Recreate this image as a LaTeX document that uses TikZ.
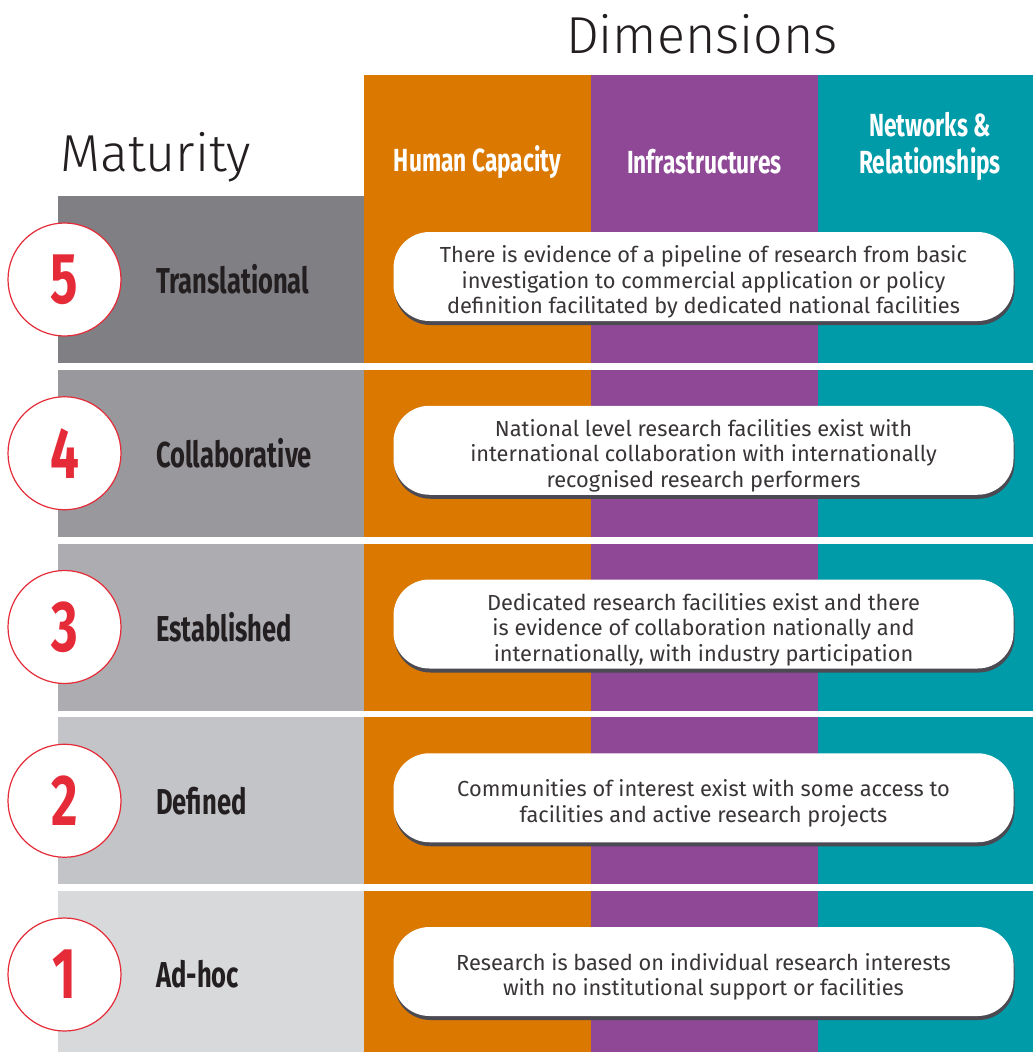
\documentclass[tikz,border=0pt]{standalone}
\usepackage{fontspec}
\setmainfont{Fira Sans}
\newfontfamily\lightfont{Fira Sans Light}
\newfontfamily\condfont[FakeStretch=0.71]{Fira Sans}
\usetikzlibrary{shadows}

\definecolor{humancap}{HTML}{DB7800}
\definecolor{infra}{HTML}{8E4896}
\definecolor{network}{HTML}{009BA8}
\definecolor{ringred}{HTML}{E52B38}
\definecolor{inkdark}{HTML}{231F20}
\definecolor{boxshadow}{HTML}{4B4A52}
\definecolor{mat5}{HTML}{807F84}
\definecolor{mat4}{HTML}{99989D}
\definecolor{mat3}{HTML}{ADADB1}
\definecolor{mat2}{HTML}{C2C4C7}
\definecolor{mat1}{HTML}{D8D9DB}

\tikzset{
	titletext/.style={font=\lightfont\fontsize{52}{60}\selectfont, text=inkdark, inner sep=0},
	colhead/.style={font=\condfont\bfseries\fontsize{32}{37}\selectfont, text=white, align=center, inner sep=0},
	levelring/.style={circle, draw=ringred, line width=1.2pt, fill=white, minimum size=113pt, inner sep=0,
		text=ringred, font=\condfont\bfseries\fontsize{72}{72}\selectfont},
	rowlabel/.style={anchor=west, inner sep=0, text=inkdark, font=\condfont\bfseries\fontsize{36}{36}\selectfont},
	descbox/.style={fill=white, rounded corners=36pt, minimum width=620pt, minimum height=89pt, inner sep=0,
		drop shadow={shadow xshift=1pt, shadow yshift=-4pt, fill=boxshadow, opacity=1}},
	desctext/.style={align=center, inner sep=0, text=inkdark!90, font=\fontsize{21.8}{25.5}\selectfont}
}

\begin{document}
\begin{tikzpicture}[x=1pt, y=-1pt]
		%%%%% START %%%%%
		\useasboundingbox (0,0) rectangle (1033,1052);
		\fill[white] (0,0) rectangle (1033,1052);
		
		\node[titletext, anchor=base] (dimtitle) at (702,53) {Dimensions};
		\node[titletext, anchor=base west] (mattitle) at (60,171) {Maturity};
		
		% dimension columns
		\fill[humancap] (364,75) rectangle (591,1052);
		\fill[infra] (591,75) rectangle (818,1052);
		\fill[network] (818,75) rectangle (1033,1052);
		
		\node[colhead] (hhuman) at (477.5,162) {Human Capacity};
		\node[colhead] (hinfra) at (704.5,162) {Infrastructures};
		\node[colhead] (hnet) at (930,146) {Networks \&\\Relationships};
		
		% maturity levels
		\foreach \n/\lbl/\shade/\desc [count=\i from 0] in {
			5/Translational/mat5/{There is evidence of a pipeline of research from basic\\investigation to commercial application or policy\\definition facilitated by dedicated national facilities},
			4/Collaborative/mat4/{National level research facilities exist with\\international collaboration with internationally\\recognised research performers},
			3/Established/mat3/{Dedicated research facilities exist and there\\is evidence of collaboration nationally and\\internationally, with industry participation},
			2/Defined/mat2/{Communities of interest exist with some access to\\facilities and active research projects},
			1/Ad-hoc/mat1/{Research is based on individual research interests\\with no institutional support or facilities}}
		{
			\pgfmathsetmacro\rtop{196+\i*173.75}
			\pgfmathsetmacro\rmid{\rtop+83.5}
			\ifnum\i>0
				\fill[white] (58,\rtop-6.75) rectangle (1033,\rtop);
			\fi
			\fill[\shade] (58,\rtop) rectangle (364,\rtop+167);
			\node[levelring] (ring\n) at (64.5,\rmid) {\n};
			\node[rowlabel] (lbl\n) at (156,\rmid) {\lbl};
			\node[descbox] (box\n) at (703.5,\rmid-3) {};
			\node[desctext] (desc\n) at ([yshift=-5.5pt]box\n.center) {\desc};
		}
		%%%%% END %%%%%
	\end{tikzpicture}
\end{document}
